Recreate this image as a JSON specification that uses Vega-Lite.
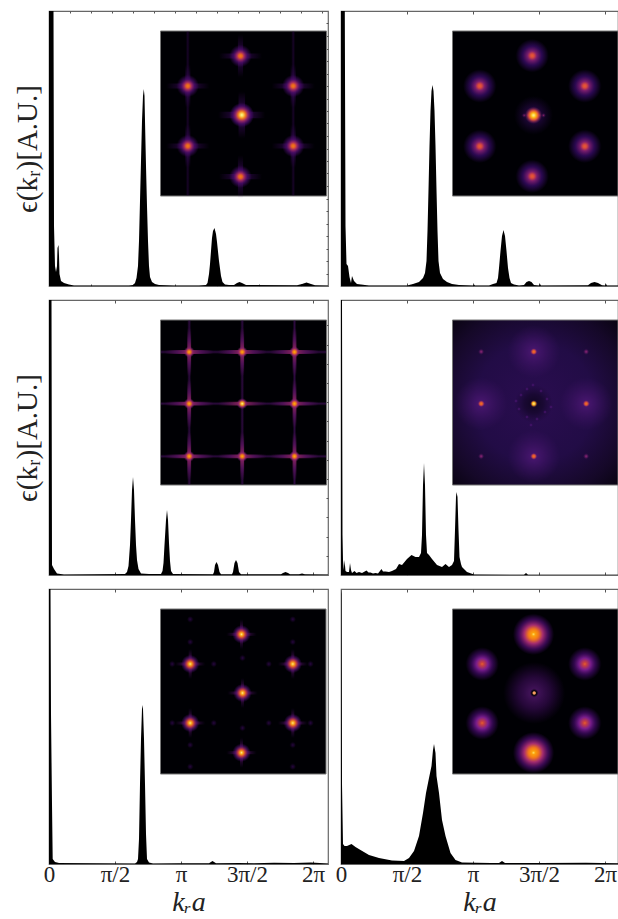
{
"$schema":"https://vega.github.io/schema/vega-lite/v6.json",
"background":"white",
"padding":{"left":12,"top":9,"right":0,"bottom":12},
"config":{"view":{"stroke":"#666","strokeWidth":1.2},"font":"Liberation Serif","axis":{"grid":false,"domain":false,"tickColor":"#555","tickWidth":1,"labelFont":"Liberation Serif","titleFont":"Liberation Serif","labelColor":"#222","titleColor":"#222"}},
"datasets":{
"cA":[{"k":0,"e":275},{"k":4.5,"e":275},{"k":5,"e":60},{"k":6,"e":20},{"k":7,"e":14},{"k":8,"e":20},{"k":8.5,"e":38},{"k":9.5,"e":41},{"k":10,"e":30},{"k":10.5,"e":12},{"k":12,"e":5},{"k":15,"e":3},{"k":20,"e":1.5},{"k":25,"e":0.5},{"k":80,"e":0.5},{"k":82,"e":0.7},{"k":84,"e":1},{"k":86,"e":3},{"k":87.5,"e":8},{"k":89,"e":20},{"k":90,"e":45},{"k":91,"e":85},{"k":92,"e":125},{"k":93,"e":165},{"k":94,"e":190},{"k":94.8,"e":197},{"k":95.5,"e":190},{"k":96,"e":165},{"k":97,"e":120},{"k":98,"e":80},{"k":99,"e":45},{"k":100,"e":20},{"k":101,"e":9},{"k":103,"e":4},{"k":106,"e":2},{"k":110,"e":1},{"k":125,"e":0.5},{"k":150,"e":0.5},{"k":157,"e":1},{"k":158.5,"e":3},{"k":160,"e":12},{"k":161,"e":22},{"k":163,"e":48},{"k":164,"e":55},{"k":165.5,"e":58},{"k":167,"e":52},{"k":168,"e":44},{"k":170,"e":25},{"k":172,"e":10},{"k":173.5,"e":4},{"k":176,"e":1.5},{"k":180,"e":1},{"k":185,"e":1},{"k":188,"e":3},{"k":190.5,"e":4},{"k":193,"e":3},{"k":197,"e":1},{"k":248,"e":0.7},{"k":253,"e":2},{"k":257.5,"e":3.5},{"k":262,"e":2},{"k":266,"e":0.7},{"k":279,"e":0.5}],
"cB":[{"k":0,"e":275},{"k":3.8,"e":275},{"k":4.5,"e":60},{"k":5.5,"e":22},{"k":7,"e":20},{"k":8.5,"e":9},{"k":10,"e":3},{"k":11,"e":10},{"k":13,"e":5},{"k":16,"e":2},{"k":28,"e":0.5},{"k":66,"e":0.5},{"k":72,"e":2},{"k":78,"e":4},{"k":82,"e":8},{"k":84,"e":13},{"k":85.5,"e":25},{"k":86.5,"e":55},{"k":87.5,"e":96},{"k":88.5,"e":140},{"k":89.5,"e":175},{"k":90.5,"e":195},{"k":91.5,"e":201},{"k":92.5,"e":195},{"k":93.5,"e":175},{"k":94.5,"e":140},{"k":95.5,"e":96},{"k":96.5,"e":55},{"k":97.5,"e":25},{"k":99,"e":13},{"k":102,"e":7},{"k":106,"e":4},{"k":111,"e":2},{"k":118,"e":1},{"k":132,"e":0.5},{"k":133,"e":1.5},{"k":134,"e":0.5},{"k":148,"e":0.5},{"k":152,"e":2},{"k":155.5,"e":3},{"k":157,"e":8},{"k":158,"e":18},{"k":159.5,"e":35},{"k":161,"e":50},{"k":162.5,"e":56},{"k":164,"e":50},{"k":165.5,"e":35},{"k":167,"e":18},{"k":168.5,"e":8},{"k":170,"e":3},{"k":173,"e":1.5},{"k":178,"e":0.5},{"k":183,"e":1},{"k":185.5,"e":4},{"k":188,"e":5},{"k":190.5,"e":4},{"k":193,"e":1},{"k":198,"e":0.5},{"k":199,"e":2},{"k":200,"e":0.5},{"k":247,"e":0.7},{"k":250,"e":3},{"k":253.5,"e":4},{"k":257,"e":3},{"k":261,"e":0.7},{"k":264,"e":0.5},{"k":265,"e":2},{"k":266,"e":0.5},{"k":277,"e":0.5}],
"cC":[{"k":0,"e":275},{"k":2.5,"e":275},{"k":3,"e":10},{"k":5,"e":6},{"k":8,"e":1.5},{"k":15,"e":0.5},{"k":76,"e":1},{"k":78,"e":3},{"k":79.5,"e":9},{"k":81,"e":30},{"k":82,"e":55},{"k":83,"e":85},{"k":84,"e":98},{"k":85,"e":85},{"k":86,"e":55},{"k":87,"e":30},{"k":88,"e":15},{"k":89.5,"e":6},{"k":92,"e":1.5},{"k":100,"e":1},{"k":112,"e":1},{"k":113.5,"e":4},{"k":114.5,"e":12},{"k":115.5,"e":30},{"k":117,"e":55},{"k":118,"e":65},{"k":119,"e":55},{"k":120,"e":32},{"k":121,"e":14},{"k":122,"e":4},{"k":124,"e":1},{"k":164,"e":0.7},{"k":165,"e":3},{"k":166,"e":10},{"k":167.5,"e":13},{"k":169,"e":10},{"k":170.5,"e":3},{"k":172,"e":0.7},{"k":183,"e":0.7},{"k":184,"e":3},{"k":185.5,"e":12},{"k":187,"e":15},{"k":188.5,"e":12},{"k":190,"e":3},{"k":192,"e":0.7},{"k":232,"e":0.7},{"k":234,"e":2},{"k":236.5,"e":3},{"k":239,"e":2},{"k":241,"e":0.7},{"k":250,"e":0.7},{"k":253,"e":1.5},{"k":256,"e":0.7},{"k":279,"e":0.5}],
"cD":[{"k":0,"e":275},{"k":1,"e":275},{"k":1.5,"e":40},{"k":2,"e":15},{"k":2.8,"e":5},{"k":3.5,"e":15},{"k":4.5,"e":4},{"k":6,"e":3},{"k":8,"e":3},{"k":9,"e":12},{"k":10,"e":5},{"k":11,"e":2},{"k":13.5,"e":4},{"k":15.5,"e":2},{"k":18,"e":3},{"k":21,"e":2},{"k":25.5,"e":4.5},{"k":27.5,"e":2.5},{"k":29.5,"e":2.5},{"k":32,"e":1.5},{"k":34.5,"e":2},{"k":37,"e":1.5},{"k":40.5,"e":6},{"k":42,"e":3.5},{"k":44.5,"e":3.5},{"k":48,"e":3},{"k":51,"e":4},{"k":55,"e":6},{"k":58,"e":11},{"k":61,"e":10},{"k":66,"e":16},{"k":70.5,"e":20},{"k":74.5,"e":18},{"k":78,"e":18},{"k":80,"e":22},{"k":81,"e":40},{"k":82,"e":90},{"k":83,"e":112},{"k":84,"e":90},{"k":85,"e":40},{"k":86,"e":22},{"k":88,"e":20},{"k":91,"e":16},{"k":96,"e":10},{"k":101,"e":8},{"k":104.5,"e":11},{"k":108,"e":8},{"k":111,"e":10},{"k":113,"e":14},{"k":114,"e":45},{"k":115,"e":78},{"k":115.5,"e":83},{"k":116.5,"e":78},{"k":117.5,"e":45},{"k":118.5,"e":18},{"k":120,"e":11},{"k":121,"e":8},{"k":126,"e":3},{"k":133,"e":0.5},{"k":183,"e":0.3},{"k":185,"e":2},{"k":187,"e":0.3},{"k":277,"e":0.3}],
"cE":[{"k":0,"e":275},{"k":1.5,"e":275},{"k":2,"e":150},{"k":3,"e":60},{"k":3.7,"e":5},{"k":6,"e":2},{"k":10,"e":1},{"k":86,"e":0.5},{"k":88,"e":2},{"k":89,"e":5},{"k":90,"e":25},{"k":91,"e":80},{"k":92,"e":125},{"k":93,"e":155},{"k":93.5,"e":159},{"k":94,"e":155},{"k":95,"e":125},{"k":96,"e":80},{"k":97,"e":30},{"k":98,"e":5},{"k":100,"e":1.5},{"k":104,"e":0.5},{"k":130,"e":0.8},{"k":160,"e":0.8},{"k":163.5,"e":3},{"k":167,"e":0.8},{"k":190,"e":1},{"k":205,"e":0.8},{"k":225,"e":1.2},{"k":245,"e":1},{"k":262,"e":1.5},{"k":279,"e":0.5}],
"cF":[{"k":0,"e":275},{"k":0.5,"e":270},{"k":1,"e":80},{"k":2,"e":20},{"k":3.5,"e":18},{"k":6,"e":18},{"k":10.5,"e":20},{"k":14.5,"e":17},{"k":19.5,"e":14},{"k":28,"e":9},{"k":38,"e":6},{"k":51,"e":3.5},{"k":63,"e":3},{"k":68,"e":6},{"k":73,"e":13},{"k":78,"e":28},{"k":82,"e":51},{"k":85,"e":71},{"k":88,"e":86},{"k":90.5,"e":98},{"k":92,"e":114},{"k":93,"e":120},{"k":94.5,"e":111},{"k":95.5,"e":88},{"k":98,"e":71},{"k":101,"e":44},{"k":104.5,"e":28},{"k":109.5,"e":11},{"k":114.5,"e":4},{"k":121,"e":1.5},{"k":150,"e":1},{"k":158,"e":1},{"k":161,"e":3},{"k":164,"e":1},{"k":200,"e":1},{"k":245,"e":1.2},{"k":277,"e":0.8}],
"sA":[{"k":138.8,"e":200},{"k":244.2,"e":200},{"k":138.8,"e":140},{"k":244.2,"e":140},{"k":191.5,"e":230},{"k":191.5,"e":109.3}],
"sB":[{"k":138.8,"e":200},{"k":243.8,"e":200},{"k":138.8,"e":139.7},{"k":243.8,"e":139.7},{"k":191.2,"e":230.3},{"k":191.2,"e":109.7}],
"sC":[{"k":140.2,"e":223},{"k":193.2,"e":223},{"k":245.5,"e":223},{"k":140.2,"e":171.3},{"k":245.5,"e":171.3},{"k":140.2,"e":118.7},{"k":193.2,"e":118.7},{"k":245.5,"e":118.7}],
"sE":[{"k":141.2,"e":200},{"k":243.8,"e":200},{"k":141.2,"e":141},{"k":243.8,"e":141},{"k":192.5,"e":229.7},{"k":192.5,"e":111.3}]
},
"columns":2,"spacing":{"row":14,"column":13},"bounds":"flush",
"concat":[
{"width":279,"height":275,
"encoding":{"x":{"field":"k","type":"quantitative","scale":{"domain":[0,279],"nice":false},"axis":null},"y":{"field":"e","type":"quantitative","scale":{"domain":[0,275],"nice":false},"stack":null,"axis":null}},
"resolve":{"axis":{"x":"independent","y":"independent"}},
"layer":[
{"data":{"name":"cA"},"mark":{"type":"area","orient":"vertical","color":"black","clip":true},
"encoding":{"x":{"field":"k","type":"quantitative","axis":{"values":[42,84,126,168,210,252],"labels":false,"title":null,"tickSize":-2}},"y":{"field":"e","type":"quantitative","stack":null,"axis":{"values":[],"labels":false,"ticks":false,"title":"ϵ(kᵣ)[A.U.]","titleFontSize":29,"titleFontWeight":"normal","titlePadding":7}}}},
{"data":{"values":[{"k":0,"e":0}]},"mark":{"type":"point","opacity":0},
"encoding":{"x":{"field":"k","type":"quantitative","axis":{"orient":"top","values":[21,42,63,84,105,126,147,168,189,210,231,252,273],"labels":false,"title":null,"tickSize":-2}},"y":{"field":"e","type":"quantitative","stack":null,"axis":{"orient":"right","values":[12.5,25,37.5,50,62.5,75,87.5,100,112.5,125,137.5,150,162.5,175,187.5,200,212.5,225,237.5,250,262.5],"labels":false,"title":null,"tickSize":-2}}}},
{"data":{"values":[{"k":111.5,"k2":277.5,"e":90,"e2":255}]},"mark":{"type":"rect","color":"#000004","stroke":"#777","strokeWidth":1},"encoding":{"x2":{"field":"k2"},"y2":{"field":"e2"}}},
{"data":{"values":[{"k":136.8,"k2":140.8,"e":90.5,"e2":254.5},{"k":242.2,"k2":246.2,"e":90.5,"e2":254.5}]},"mark":{"type":"rect","color":{"gradient":"linear","x1":0,"y1":0,"x2":1,"y2":0,"stops":[{"offset":0,"color":"rgba(66,10,104,0)"},{"offset":0.5,"color":"rgba(66,10,104,0.35)"},{"offset":1,"color":"rgba(66,10,104,0)"}]}},"encoding":{"x2":{"field":"k2"},"y2":{"field":"e2"}}},
{"data":{"name":"sA"},"mark":{"type":"point","filled":true,"opacity":1,"strokeWidth":0,"size":1850,"shape":"M-1,-0.12L1,-0.12L1,0.12L-1,0.12Z","color":{"gradient":"radial","x1":0.5,"y1":0.5,"r1":0,"x2":0.5,"y2":0.5,"r2":0.5,"stops":[{"offset":0,"color":"rgba(106,23,110,0.7)"},{"offset":0.5,"color":"rgba(66,10,104,0.35)"},{"offset":1,"color":"rgba(66,10,104,0)"}]}}},
{"data":{"name":"sA"},"mark":{"type":"point","filled":true,"opacity":1,"strokeWidth":0,"size":1850,"shape":"M-0.12,-1L0.12,-1L0.12,1L-0.12,1Z","color":{"gradient":"radial","x1":0.5,"y1":0.5,"r1":0,"x2":0.5,"y2":0.5,"r2":0.5,"stops":[{"offset":0,"color":"rgba(106,23,110,0.7)"},{"offset":0.5,"color":"rgba(66,10,104,0.35)"},{"offset":1,"color":"rgba(66,10,104,0)"}]}}},
{"data":{"name":"sA"},"mark":{"type":"point","filled":true,"opacity":1,"strokeWidth":0,"size":500,"shape":"circle","color":{"gradient":"radial","x1":0.5,"y1":0.5,"r1":0,"x2":0.5,"y2":0.5,"r2":0.5,"stops":[{"offset":0,"color":"#f37819"},{"offset":0.16,"color":"#e8651f"},{"offset":0.32,"color":"#a52c60"},{"offset":0.6,"color":"rgba(74,12,107,0.8)"},{"offset":1,"color":"rgba(66,10,104,0)"}]}}},
{"data":{"values":[{"k":192.8,"e":171}]},"mark":{"type":"point","filled":true,"opacity":1,"strokeWidth":0,"size":2200,"shape":"M-1,-0.14L1,-0.14L1,0.14L-1,0.14Z","color":{"gradient":"radial","x1":0.5,"y1":0.5,"r1":0,"x2":0.5,"y2":0.5,"r2":0.5,"stops":[{"offset":0,"color":"rgba(122,29,109,0.8)"},{"offset":0.5,"color":"rgba(66,10,104,0.4)"},{"offset":1,"color":"rgba(66,10,104,0)"}]}}},
{"data":{"values":[{"k":192.8,"e":171}]},"mark":{"type":"point","filled":true,"opacity":1,"strokeWidth":0,"size":2200,"shape":"M-0.14,-1L0.14,-1L0.14,1L-0.14,1Z","color":{"gradient":"radial","x1":0.5,"y1":0.5,"r1":0,"x2":0.5,"y2":0.5,"r2":0.5,"stops":[{"offset":0,"color":"rgba(122,29,109,0.8)"},{"offset":0.5,"color":"rgba(66,10,104,0.4)"},{"offset":1,"color":"rgba(66,10,104,0)"}]}}},
{"data":{"values":[{"k":192.8,"e":171}]},"mark":{"type":"point","filled":true,"opacity":1,"strokeWidth":0,"size":600,"shape":"circle","color":{"gradient":"radial","x1":0.5,"y1":0.5,"r1":0,"x2":0.5,"y2":0.5,"r2":0.5,"stops":[{"offset":0,"color":"#fcffa4"},{"offset":0.15,"color":"#f9cf4a"},{"offset":0.3,"color":"#f37819"},{"offset":0.5,"color":"#932667"},{"offset":0.75,"color":"rgba(66,10,104,0.8)"},{"offset":1,"color":"rgba(66,10,104,0)"}]}}}
]},
{"width":277,"height":275,
"encoding":{"x":{"field":"k","type":"quantitative","scale":{"domain":[0,277],"nice":false},"axis":null},"y":{"field":"e","type":"quantitative","scale":{"domain":[0,275],"nice":false},"stack":null,"axis":null}},
"resolve":{"axis":{"x":"independent"}},
"layer":[
{"data":{"name":"cB"},"mark":{"type":"area","orient":"vertical","color":"black","clip":true},
"encoding":{"x":{"field":"k","type":"quantitative","axis":{"values":[66,132,198,264],"labels":false,"title":null,"tickSize":-3}}}},
{"data":{"values":[{"k":0,"e":0}]},"mark":{"type":"point","opacity":0},
"encoding":{"x":{"field":"k","type":"quantitative","axis":{"orient":"top","values":[66,132,198,264],"labels":false,"title":null,"tickSize":-3}}}},
{"data":{"values":[{"k":111.5,"k2":277,"e":90,"e2":255}]},"mark":{"type":"rect","color":"#000004","stroke":"#777","strokeWidth":1},"encoding":{"x2":{"field":"k2"},"y2":{"field":"e2"}}},
{"data":{"name":"sB"},"mark":{"type":"point","filled":true,"opacity":1,"strokeWidth":0,"size":1100,"shape":"circle","color":{"gradient":"radial","x1":0.5,"y1":0.5,"r1":0,"x2":0.5,"y2":0.5,"r2":0.5,"stops":[{"offset":0,"color":"#e8602f"},{"offset":0.12,"color":"#d8483f"},{"offset":0.28,"color":"#7a1d6d"},{"offset":0.58,"color":"rgba(50,10,94,0.85)"},{"offset":1,"color":"rgba(50,10,94,0)"}]}}},
{"data":{"values":[{"k":192.5,"e":170.7}]},"mark":{"type":"point","filled":true,"opacity":1,"strokeWidth":0,"size":1500,"shape":"circle","color":{"gradient":"radial","x1":0.5,"y1":0.5,"r1":0,"x2":0.5,"y2":0.5,"r2":0.5,"stops":[{"offset":0,"color":"rgba(60,12,100,0.9)"},{"offset":1,"color":"rgba(40,10,80,0)"}]}}},
{"data":{"values":[{"k":183.2,"e":170.7},{"k":187.5,"e":170.7},{"k":198.2,"e":170.7},{"k":202.5,"e":170.7}]},"mark":{"type":"point","filled":true,"opacity":1,"strokeWidth":0,"size":22,"shape":"circle","color":{"gradient":"radial","x1":0.5,"y1":0.5,"r1":0,"x2":0.5,"y2":0.5,"r2":0.5,"stops":[{"offset":0,"color":"rgba(147,38,103,0.9)"},{"offset":1,"color":"rgba(66,10,104,0)"}]}}},
{"data":{"values":[{"k":192.5,"e":170.7}]},"mark":{"type":"point","filled":true,"opacity":1,"strokeWidth":0,"size":300,"shape":"circle","color":{"gradient":"radial","x1":0.5,"y1":0.5,"r1":0,"x2":0.5,"y2":0.5,"r2":0.5,"stops":[{"offset":0,"color":"#fcffa4"},{"offset":0.3,"color":"#fcb30a"},{"offset":0.55,"color":"#dd513a"},{"offset":1,"color":"rgba(106,23,110,0)"}]}}}
]},
{"width":279,"height":275,
"encoding":{"x":{"field":"k","type":"quantitative","scale":{"domain":[0,279],"nice":false},"axis":null},"y":{"field":"e","type":"quantitative","scale":{"domain":[0,275],"nice":false},"stack":null,"axis":null}},
"resolve":{"axis":{"x":"independent","y":"independent"}},
"layer":[
{"data":{"name":"cC"},"mark":{"type":"area","orient":"vertical","color":"black","clip":true},
"encoding":{"x":{"field":"k","type":"quantitative","axis":{"values":[66,132,198,264],"labels":false,"title":null,"tickSize":-3}},"y":{"field":"e","type":"quantitative","stack":null,"axis":{"values":[],"labels":false,"ticks":false,"title":"ϵ(kᵣ)[A.U.]","titleFontSize":29,"titleFontWeight":"normal","titlePadding":7}}}},
{"data":{"values":[{"k":0,"e":0}]},"mark":{"type":"point","opacity":0},
"encoding":{"x":{"field":"k","type":"quantitative","axis":{"orient":"top","values":[66,132,198,264],"labels":false,"title":null,"tickSize":-3}},"y":{"field":"e","type":"quantitative","stack":null,"axis":{"orient":"right","values":[19,38,58,77,96,115,134,154,173,192,211,230,250],"labels":false,"title":null,"tickSize":-2}}}},
{"data":{"values":[{"k":111.5,"k2":277.5,"e":90,"e2":255}]},"mark":{"type":"rect","color":"#000004","stroke":"#777","strokeWidth":1},"encoding":{"x2":{"field":"k2"},"y2":{"field":"e2"}}},
{"data":{"values":[{"k":138.2,"k2":142.2,"e":90.5,"e2":254.5},{"k":191.2,"k2":195.2,"e":90.5,"e2":254.5},{"k":243.5,"k2":247.5,"e":90.5,"e2":254.5}]},"mark":{"type":"rect","color":{"gradient":"linear","x1":0,"y1":0,"x2":1,"y2":0,"stops":[{"offset":0,"color":"rgba(80,18,110,0)"},{"offset":0.5,"color":"rgba(80,18,110,0.55)"},{"offset":1,"color":"rgba(80,18,110,0)"}]}},"encoding":{"x2":{"field":"k2"},"y2":{"field":"e2"}}},
{"data":{"values":[{"k":112,"k2":277,"e":221,"e2":225},{"k":112,"k2":277,"e":169.3,"e2":173.3},{"k":112,"k2":277,"e":116.7,"e2":120.7}]},"mark":{"type":"rect","color":{"gradient":"linear","x1":0,"y1":0,"x2":0,"y2":1,"stops":[{"offset":0,"color":"rgba(80,18,110,0)"},{"offset":0.5,"color":"rgba(80,18,110,0.55)"},{"offset":1,"color":"rgba(80,18,110,0)"}]}},"encoding":{"x2":{"field":"k2"},"y2":{"field":"e2"}}},
{"data":{"name":"sC"},"mark":{"type":"point","filled":true,"opacity":1,"strokeWidth":0,"size":2304,"shape":"M-1,-0.08L1,-0.08L1,0.08L-1,0.08Z","color":{"gradient":"radial","x1":0.5,"y1":0.5,"r1":0,"x2":0.5,"y2":0.5,"r2":0.5,"stops":[{"offset":0,"color":"rgba(165,44,96,0.9)"},{"offset":0.5,"color":"rgba(106,23,110,0.6)"},{"offset":1,"color":"rgba(106,23,110,0)"}]}}},
{"data":{"name":"sC"},"mark":{"type":"point","filled":true,"opacity":1,"strokeWidth":0,"size":2304,"shape":"M-0.08,-1L0.08,-1L0.08,1L-0.08,1Z","color":{"gradient":"radial","x1":0.5,"y1":0.5,"r1":0,"x2":0.5,"y2":0.5,"r2":0.5,"stops":[{"offset":0,"color":"rgba(165,44,96,0.9)"},{"offset":0.5,"color":"rgba(106,23,110,0.6)"},{"offset":1,"color":"rgba(106,23,110,0)"}]}}},
{"data":{"name":"sC"},"mark":{"type":"point","filled":true,"opacity":1,"strokeWidth":0,"size":120,"shape":"circle","color":{"gradient":"radial","x1":0.5,"y1":0.5,"r1":0,"x2":0.5,"y2":0.5,"r2":0.5,"stops":[{"offset":0,"color":"#fcb30a"},{"offset":0.3,"color":"#f37819"},{"offset":0.6,"color":"#932667"},{"offset":1,"color":"rgba(106,23,110,0)"}]}}},
{"data":{"values":[{"k":193.2,"e":171.3}]},"mark":{"type":"point","filled":true,"opacity":1,"strokeWidth":0,"size":2304,"shape":"M-1,-0.08L1,-0.08L1,0.08L-1,0.08Z","color":{"gradient":"radial","x1":0.5,"y1":0.5,"r1":0,"x2":0.5,"y2":0.5,"r2":0.5,"stops":[{"offset":0,"color":"rgba(165,44,96,0.9)"},{"offset":1,"color":"rgba(106,23,110,0)"}]}}},
{"data":{"values":[{"k":193.2,"e":171.3}]},"mark":{"type":"point","filled":true,"opacity":1,"strokeWidth":0,"size":120,"shape":"circle","color":{"gradient":"radial","x1":0.5,"y1":0.5,"r1":0,"x2":0.5,"y2":0.5,"r2":0.5,"stops":[{"offset":0,"color":"#fcffa4"},{"offset":0.3,"color":"#fca50a"},{"offset":0.6,"color":"#932667"},{"offset":1,"color":"rgba(106,23,110,0)"}]}}}
]},
{"width":277,"height":275,
"encoding":{"x":{"field":"k","type":"quantitative","scale":{"domain":[0,277],"nice":false},"axis":null},"y":{"field":"e","type":"quantitative","scale":{"domain":[0,275],"nice":false},"stack":null,"axis":null}},
"resolve":{"axis":{"x":"independent"}},
"layer":[
{"data":{"name":"cD"},"mark":{"type":"area","orient":"vertical","color":"black","clip":true},
"encoding":{"x":{"field":"k","type":"quantitative","axis":{"values":[66,132,198,264],"labels":false,"title":null,"tickSize":-3}}}},
{"data":{"values":[{"k":0,"e":0}]},"mark":{"type":"point","opacity":0},
"encoding":{"x":{"field":"k","type":"quantitative","axis":{"orient":"top","values":[66,132,198,264],"labels":false,"title":null,"tickSize":-3}}}},
{"data":{"values":[{"k":111.5,"k2":277,"e":90,"e2":255}]},"mark":{"type":"rect","stroke":"#777","strokeWidth":1,"color":{"gradient":"radial","x1":0.5,"y1":0.5,"r1":0,"x2":0.5,"y2":0.5,"r2":0.72,"stops":[{"offset":0,"color":"#2a0d50"},{"offset":0.5,"color":"#220c46"},{"offset":0.8,"color":"#150828"},{"offset":1,"color":"#08030f"}]}},"encoding":{"x2":{"field":"k2"},"y2":{"field":"e2"}}},
{"data":{"values":[{"k":192.8,"e":223.3},{"k":192.8,"e":118.7},{"k":140.2,"e":171.3},{"k":245.2,"e":171.3}]},"mark":{"type":"point","filled":true,"opacity":1,"strokeWidth":0,"size":2800,"shape":"circle","color":{"gradient":"radial","x1":0.5,"y1":0.5,"r1":0,"x2":0.5,"y2":0.5,"r2":0.5,"stops":[{"offset":0,"color":"rgba(88,26,128,0.75)"},{"offset":1,"color":"rgba(70,20,110,0)"}]}}},
{"data":{"values":[{"k":192.8,"e":171.3}]},"mark":{"type":"point","filled":true,"opacity":1,"strokeWidth":0,"size":1500,"shape":"circle","color":{"gradient":"radial","x1":0.5,"y1":0.5,"r1":0,"x2":0.5,"y2":0.5,"r2":0.5,"stops":[{"offset":0,"color":"rgba(4,2,12,0.7)"},{"offset":0.5,"color":"rgba(10,4,24,0.5)"},{"offset":1,"color":"rgba(20,8,40,0)"}]}}},
{"data":{"values":[{"k":180,"e":180},{"k":186,"e":186},{"k":200,"e":184},{"k":206,"e":176},{"k":204,"e":163},{"k":196,"e":156},{"k":186,"e":158},{"k":178,"e":166},{"k":175,"e":174},{"k":192,"e":190},{"k":210,"e":168},{"k":190,"e":150}]},"mark":{"type":"point","filled":true,"opacity":1,"strokeWidth":0,"size":16,"shape":"circle","color":{"gradient":"radial","x1":0.5,"y1":0.5,"r1":0,"x2":0.5,"y2":0.5,"r2":0.5,"stops":[{"offset":0,"color":"rgba(90,28,130,0.8)"},{"offset":1,"color":"rgba(66,10,104,0)"}]}}},
{"data":{"values":[{"k":192.8,"e":223.3},{"k":192.8,"e":118.7},{"k":140.2,"e":171.3},{"k":245.2,"e":171.3}]},"mark":{"type":"point","filled":true,"opacity":1,"strokeWidth":0,"size":44,"shape":"circle","color":{"gradient":"radial","x1":0.5,"y1":0.5,"r1":0,"x2":0.5,"y2":0.5,"r2":0.5,"stops":[{"offset":0,"color":"#f37819"},{"offset":0.5,"color":"#dd513a"},{"offset":1,"color":"rgba(147,38,103,0)"}]}}},
{"data":{"values":[{"k":140.2,"e":223.3},{"k":245.2,"e":223.3},{"k":140.2,"e":118.7},{"k":245.2,"e":118.7}]},"mark":{"type":"point","filled":true,"opacity":1,"strokeWidth":0,"size":32,"shape":"circle","color":{"gradient":"radial","x1":0.5,"y1":0.5,"r1":0,"x2":0.5,"y2":0.5,"r2":0.5,"stops":[{"offset":0,"color":"#a52c80"},{"offset":1,"color":"rgba(106,23,110,0)"}]}}},
{"data":{"values":[{"k":192.8,"e":171.3}]},"mark":{"type":"point","filled":true,"opacity":1,"strokeWidth":0,"size":50,"shape":"circle","color":{"gradient":"radial","x1":0.5,"y1":0.5,"r1":0,"x2":0.5,"y2":0.5,"r2":0.5,"stops":[{"offset":0,"color":"#fcffa4"},{"offset":0.5,"color":"#fca50a"},{"offset":1,"color":"rgba(147,38,103,0)"}]}}}
]},
{"width":279,"height":275,
"encoding":{"x":{"field":"k","type":"quantitative","scale":{"domain":[0,279],"nice":false},"axis":null},"y":{"field":"e","type":"quantitative","scale":{"domain":[0,275],"nice":false},"stack":null,"axis":null}},
"resolve":{"axis":{"x":"independent"}},
"layer":[
{"data":{"name":"cE"},"mark":{"type":"area","orient":"vertical","color":"black","clip":true},
"encoding":{"x":{"field":"k","type":"quantitative","axis":{"values":[0,66,132,198,264],"labelExpr":"datum.value==0?'0':datum.value==66?'π/2':datum.value==132?'π':datum.value==198?'3π/2':'2π'","labelFontSize":23,"labelPadding":2,"labelOverlap":false,"labelFlush":false,"labelBound":false,"title":"kᵣa","titleFontSize":28,"titleFontStyle":"italic","titleFontWeight":"normal","titlePadding":2,"tickSize":-3}},"y":{"field":"e","type":"quantitative","stack":null,"axis":{"values":[],"labels":false,"ticks":false,"title":"ϵ(kᵣ)[A.U.]","titleFontSize":29,"titleFontWeight":"normal","titlePadding":7}}}},
{"data":{"values":[{"k":0,"e":0}]},"mark":{"type":"point","opacity":0},
"encoding":{"x":{"field":"k","type":"quantitative","axis":{"orient":"top","values":[66,132,198,264],"labels":false,"title":null,"tickSize":-3}}}},
{"data":{"values":[{"k":111.5,"k2":277,"e":90,"e2":255}]},"mark":{"type":"rect","color":"#000004","stroke":"#777","strokeWidth":1},"encoding":{"x2":{"field":"k2"},"y2":{"field":"e2"}}},
{"data":{"values":[{"k":141.2,"e":244.7},{"k":243.8,"e":244.7},{"k":141.2,"e":97.3},{"k":243.8,"e":97.3},{"k":123.2,"e":200},{"k":164.8,"e":200},{"k":219.8,"e":200},{"k":261.5,"e":200},{"k":123.2,"e":141},{"k":164.8,"e":141},{"k":219.8,"e":141},{"k":261.5,"e":141},{"k":193.5,"e":206},{"k":193.5,"e":136},{"k":141.2,"e":222},{"k":243.8,"e":222},{"k":141.2,"e":119},{"k":243.8,"e":119}]},"mark":{"type":"point","filled":true,"opacity":1,"strokeWidth":0,"size":40,"shape":"circle","color":{"gradient":"radial","x1":0.5,"y1":0.5,"r1":0,"x2":0.5,"y2":0.5,"r2":0.5,"stops":[{"offset":0,"color":"rgba(66,10,104,0.6)"},{"offset":1,"color":"rgba(66,10,104,0)"}]}}},
{"data":{"name":"sE"},"mark":{"type":"point","filled":true,"opacity":1,"strokeWidth":0,"size":900,"shape":"M-1,-0.1L1,-0.1L1,0.1L-1,0.1Z","color":{"gradient":"radial","x1":0.5,"y1":0.5,"r1":0,"x2":0.5,"y2":0.5,"r2":0.5,"stops":[{"offset":0,"color":"rgba(122,29,109,0.9)"},{"offset":1,"color":"rgba(66,10,104,0)"}]}}},
{"data":{"name":"sE"},"mark":{"type":"point","filled":true,"opacity":1,"strokeWidth":0,"size":900,"shape":"M-0.1,-1L0.1,-1L0.1,1L-0.1,1Z","color":{"gradient":"radial","x1":0.5,"y1":0.5,"r1":0,"x2":0.5,"y2":0.5,"r2":0.5,"stops":[{"offset":0,"color":"rgba(122,29,109,0.9)"},{"offset":1,"color":"rgba(66,10,104,0)"}]}}},
{"data":{"values":[{"k":193.5,"e":171}]},"mark":{"type":"point","filled":true,"opacity":1,"strokeWidth":0,"size":900,"shape":"M-1,-0.1L1,-0.1L1,0.1L-1,0.1Z","color":{"gradient":"radial","x1":0.5,"y1":0.5,"r1":0,"x2":0.5,"y2":0.5,"r2":0.5,"stops":[{"offset":0,"color":"rgba(122,29,109,0.9)"},{"offset":1,"color":"rgba(66,10,104,0)"}]}}},
{"data":{"values":[{"k":193.5,"e":171}]},"mark":{"type":"point","filled":true,"opacity":1,"strokeWidth":0,"size":900,"shape":"M-0.1,-1L0.1,-1L0.1,1L-0.1,1Z","color":{"gradient":"radial","x1":0.5,"y1":0.5,"r1":0,"x2":0.5,"y2":0.5,"r2":0.5,"stops":[{"offset":0,"color":"rgba(122,29,109,0.9)"},{"offset":1,"color":"rgba(66,10,104,0)"}]}}},
{"data":{"name":"sE"},"mark":{"type":"point","filled":true,"opacity":1,"strokeWidth":0,"size":340,"shape":"circle","color":{"gradient":"radial","x1":0.5,"y1":0.5,"r1":0,"x2":0.5,"y2":0.5,"r2":0.5,"stops":[{"offset":0,"color":"#fde89a"},{"offset":0.18,"color":"#fca50a"},{"offset":0.38,"color":"#c8403f"},{"offset":0.65,"color":"rgba(90,20,110,0.8)"},{"offset":1,"color":"rgba(66,10,104,0)"}]}}},
{"data":{"values":[{"k":193.5,"e":171}]},"mark":{"type":"point","filled":true,"opacity":1,"strokeWidth":0,"size":340,"shape":"circle","color":{"gradient":"radial","x1":0.5,"y1":0.5,"r1":0,"x2":0.5,"y2":0.5,"r2":0.5,"stops":[{"offset":0,"color":"#fde89a"},{"offset":0.18,"color":"#fca50a"},{"offset":0.38,"color":"#c8403f"},{"offset":0.65,"color":"rgba(90,20,110,0.8)"},{"offset":1,"color":"rgba(66,10,104,0)"}]}}}
]},
{"width":277,"height":275,
"encoding":{"x":{"field":"k","type":"quantitative","scale":{"domain":[0,277],"nice":false},"axis":null},"y":{"field":"e","type":"quantitative","scale":{"domain":[0,275],"nice":false},"stack":null,"axis":null}},
"resolve":{"axis":{"x":"independent"}},
"layer":[
{"data":{"name":"cF"},"mark":{"type":"area","orient":"vertical","color":"black","clip":true},
"encoding":{"x":{"field":"k","type":"quantitative","axis":{"values":[0,66,132,198,264],"labelExpr":"datum.value==0?'0':datum.value==66?'π/2':datum.value==132?'π':datum.value==198?'3π/2':'2π'","labelFontSize":23,"labelPadding":2,"labelOverlap":false,"labelFlush":false,"labelBound":false,"title":"kᵣa","titleFontSize":28,"titleFontStyle":"italic","titleFontWeight":"normal","titlePadding":2,"tickSize":-3}}}},
{"data":{"values":[{"k":0,"e":0}]},"mark":{"type":"point","opacity":0},
"encoding":{"x":{"field":"k","type":"quantitative","axis":{"orient":"top","values":[66,132,198,264],"labels":false,"title":null,"tickSize":-3}}}},
{"data":{"values":[{"k":111.5,"k2":277,"e":90,"e2":255}]},"mark":{"type":"rect","color":"#000004","stroke":"#777","strokeWidth":1},"encoding":{"x2":{"field":"k2"},"y2":{"field":"e2"}}},
{"data":{"values":[{"k":193.2,"e":171}]},"mark":{"type":"point","filled":true,"opacity":1,"strokeWidth":0,"size":3800,"shape":"circle","color":{"gradient":"radial","x1":0.5,"y1":0.5,"r1":0,"x2":0.5,"y2":0.5,"r2":0.5,"stops":[{"offset":0,"color":"rgba(100,30,130,0.75)"},{"offset":0.5,"color":"rgba(75,15,110,0.5)"},{"offset":1,"color":"rgba(66,10,104,0)"}]}}},
{"data":{"values":[{"k":141.2,"e":200},{"k":243.8,"e":200},{"k":141.2,"e":141},{"k":243.8,"e":141}]},"mark":{"type":"point","filled":true,"opacity":1,"strokeWidth":0,"size":1100,"shape":"circle","color":{"gradient":"radial","x1":0.5,"y1":0.5,"r1":0,"x2":0.5,"y2":0.5,"r2":0.5,"stops":[{"offset":0,"color":"#e8602f"},{"offset":0.1,"color":"#c8403f"},{"offset":0.35,"color":"#7a1d8d"},{"offset":0.65,"color":"rgba(66,10,104,0.7)"},{"offset":1,"color":"rgba(66,10,104,0)"}]}}},
{"data":{"values":[{"k":192.5,"e":229.7},{"k":192.5,"e":111.3}]},"mark":{"type":"point","filled":true,"opacity":1,"strokeWidth":0,"size":1700,"shape":"circle","color":{"gradient":"radial","x1":0.5,"y1":0.5,"r1":0,"x2":0.5,"y2":0.5,"r2":0.5,"stops":[{"offset":0,"color":"#fcffa4"},{"offset":0.07,"color":"#fca50a"},{"offset":0.25,"color":"#f37819"},{"offset":0.45,"color":"#a52c70"},{"offset":0.72,"color":"rgba(75,12,107,0.75)"},{"offset":1,"color":"rgba(66,10,104,0)"}]}}},
{"data":{"values":[{"k":193.2,"e":171}]},"mark":{"type":"point","filled":true,"opacity":1,"strokeWidth":0,"size":70,"shape":"circle","color":{"gradient":"radial","x1":0.5,"y1":0.5,"r1":0,"x2":0.5,"y2":0.5,"r2":0.5,"stops":[{"offset":0,"color":"rgba(0,0,4,1)"},{"offset":0.6,"color":"rgba(0,0,4,0.9)"},{"offset":1,"color":"rgba(0,0,4,0)"}]}}},
{"data":{"values":[{"k":193.2,"e":171}]},"mark":{"type":"point","filled":true,"opacity":1,"strokeWidth":0,"size":12,"shape":"circle","color":"#f8a060"}}
]}
]}
